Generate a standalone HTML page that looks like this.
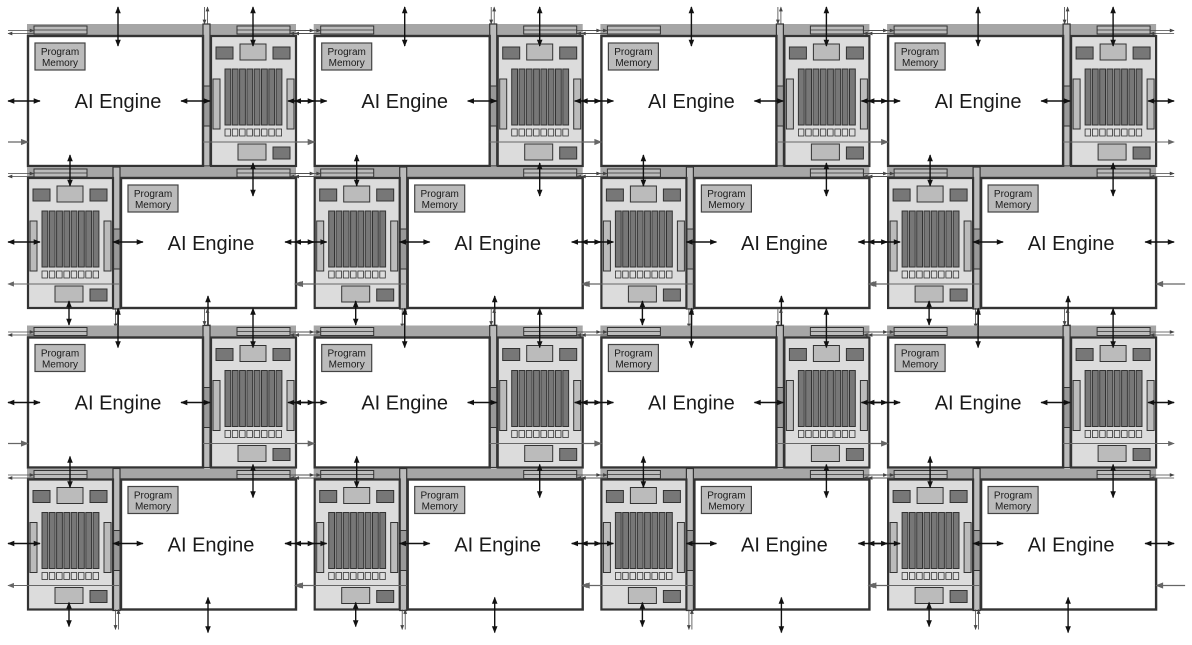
<!DOCTYPE html>
<html><head><meta charset="utf-8"><style>
html,body{margin:0;padding:0;background:#fff;width:1192px;height:645px;overflow:hidden}
svg{display:block}
text{font-family:"Liberation Sans",sans-serif;fill:#1a1a1a}
</style></head><body>
<svg id="s" width="1192" height="645" viewBox="0 0 1192 645" xmlns="http://www.w3.org/2000/svg">
<defs>
<marker id="a" viewBox="0 0 10 10" refX="9" refY="5" markerWidth="7" markerHeight="5" orient="auto-start-reverse"><path d="M0,1L10,5L0,9z" fill="#111"/></marker>
<marker id="g" viewBox="0 0 10 10" refX="9" refY="5" markerWidth="9" markerHeight="6" orient="auto-start-reverse"><path d="M0,1L10,5L0,9z" fill="#666"/></marker>
<marker id="t" viewBox="0 0 10 10" refX="9" refY="5" markerWidth="7" markerHeight="6" orient="auto-start-reverse"><path d="M0,1L10,5L0,9z" fill="#444"/></marker>
</defs>
</svg>
<script>
const s=document.getElementById('s');let h='';
function R(x,y,w,ht,f,st,sw){h+=`<rect x="${x}" y="${y}" width="${w}" height="${ht}" fill="${f}" stroke="${st||'none'}" stroke-width="${sw||1}"/>`;}
function L(x1,y1,x2,y2,c,w,ms,me){h+=`<line x1="${x1}" y1="${y1}" x2="${x2}" y2="${y2}" stroke="${c}" stroke-width="${w}" ${ms?`marker-start="url(#${ms})"`:''} ${me?`marker-end="url(#${me})"`:''}/>`;}
function D(x1,y1,x2,y2){L(x1,y1,x2,y2,'#111',1.4,'a','a');}
function T(x1,y1,x2,y2){
 if(x1==x2){L(x1-1.5,y1,x1-1.5,y2,'#444',0.8,null,'t');L(x1+1.5,y1,x1+1.5,y2,'#444',0.8,'t',null);}
 else{L(x1,y1-1.5,x2,y1-1.5,'#444',0.8,null,'t');L(x1,y1+1.5,x2,y1+1.5,'#444',0.8,'t',null);}
}
function eng(x,y){R(x,y,175,130,'#fff','#333',2.4);R(x+7,y+7,50,27,'#bbb','#444',1.2);
 h+=`<text x="${x+32}" y="${y+19}" font-size="10" text-anchor="middle">Program</text><text x="${x+32}" y="${y+30}" font-size="10" text-anchor="middle">Memory</text>`;
 h+=`<text x="${x+90}" y="${y+72}" font-size="20" text-anchor="middle">AI Engine</text>`;}
function mem(x,y){R(x,y,85,130,'#dcdcdc','#333',2.2);
 R(x+5,y+11,17,12,'#777','#333',1);R(x+29,y+8,26,16,'#bbb','#333',1);R(x+62,y+11,17,12,'#777','#333',1);
 for(let i=0;i<8;i++)R(x+14+i*7.3,y+33,5.8,56,'#777','#333',1);
 for(let i=0;i<8;i++)R(x+14+i*7.3,y+93,5.5,7,'#ddd','#333',0.8);
 R(x+2,y+43,7,50,'#bbb','#333',1);R(x+76,y+43,7,50,'#bbb','#333',1);
 R(x+27,y+108,28,16,'#bbb','#333',1);R(x+62,y+111,17,12,'#777','#333',1);}
function bar(x,y){R(x,y,269,12,'#a6a6a6');}
function busbar(x,y){R(x,y+2,53,8,'#bbb','#333',1);L(x,y+6,x+53,y+6,'#333',0.8);}
function strip(x,y){R(x,y,7,142,'#bbb','#333',1.2);R(x,y+62,7,40,'#999','#333',1);}
for(let r=0;r<2;r++)for(let c=0;c<4;c++){
 const ox=28+c*286.7, oy=24+r*301.5;
 bar(ox-1,oy);busbar(ox+6,oy);busbar(ox+209,oy);
 strip(ox+175,oy);
 eng(ox,oy+12);mem(ox+183,oy+12);
 const by=oy+143;
 bar(ox-1,by);busbar(ox+6,by);busbar(ox+209,by);
 strip(ox+85,by);
 mem(ox,by+11);eng(ox+93,by+11);
 T(ox-20,oy+8,ox+6,oy+8);T(ox+262,oy+8,ox+286,oy+8);
 T(ox-20,by+8,ox+6,by+8);T(ox+262,by+8,ox+286,by+8);
 D(ox+90,oy-17,ox+90,oy+22);
 T(ox+178,oy-17,ox+178,oy);
 D(ox+225,oy-17,ox+225,oy+22);
 D(ox-20,oy+77,ox+12,oy+77);
 D(ox+153,oy+77,ox+182,oy+77);
 D(ox+260,oy+77,ox+286,oy+77);
 L(ox-20,oy+118,ox,oy+118,'#666',1.3,null,'g');
 L(ox+175,oy+118,ox+286,oy+118,'#666',1.1,null,'g');
 D(ox+42,oy+131,ox+42,oy+162);
 D(ox+225,oy+139,ox+225,oy+172);
 D(ox-20,by+75,ox+12,by+75);
 D(ox+85,by+75,ox+115,by+75);
 D(ox+257,by+75,ox+286,by+75);
 L(ox+92,by+117,ox-20,by+117,'#666',1.1,null,'g');
 L(ox+297,by+117,ox+268,by+117,'#666',1.3,null,'g');
 D(ox+41,by+134,ox+41,by+158);
 T(ox+89,by+141,ox+89,by+161);
 D(ox+180,by+129,ox+180,by+164);
}
s.innerHTML+=h;
</script>
</body></html>
